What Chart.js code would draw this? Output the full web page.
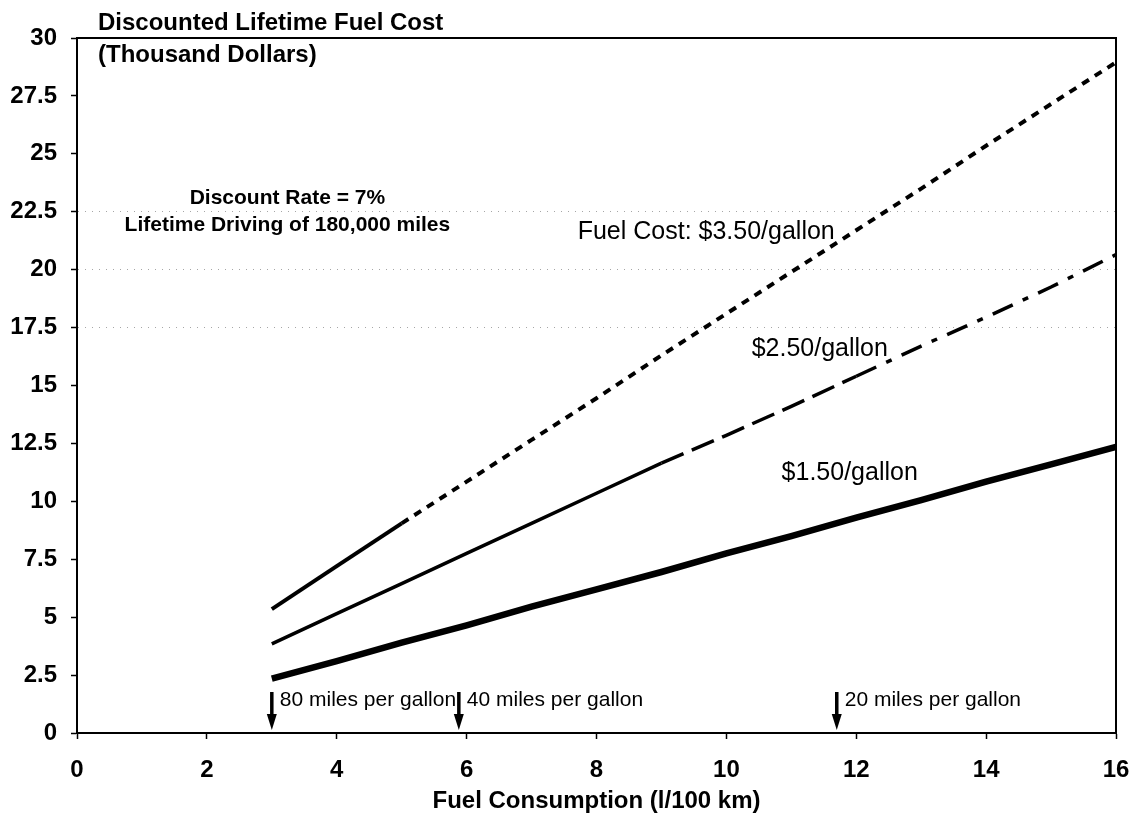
<!DOCTYPE html>
<html>
<head>
<meta charset="utf-8">
<script src="https://cdn.jsdelivr.net/npm/chart.js@4.4.0/dist/chart.umd.min.js"></script>
<style>
    html, body { margin: 0; padding: 0; background: #fff; }
    .chart-box { width: 1136px; height: 813px; position: relative; }
</style>
</head>
<body>
<div class="chart-box"><canvas id="fuelChart"></canvas></div>
<script>
// 燃料消耗 (l/100 km)
const consumption = [3, 4, 5, 6, 7, 8, 9, 10, 11, 12, 13, 14, 15, 16];
// 折现后的终身燃料成本 (千美元)
const cost350 = [5.35, 7.2, 9.05, 10.85, 12.65, 14.45, 16.3, 18.1, 19.9, 21.7, 23.5, 25.35, 27.15, 28.95];
const cost250 = [3.85, 5.15, 6.45, 7.75, 9.05, 10.35, 11.65, 12.85, 14.1, 15.4, 16.7, 17.95, 19.25, 20.65];
const cost150 = [2.35, 3.1, 3.9, 4.65, 5.45, 6.2, 6.95, 7.75, 8.5, 9.3, 10.05, 10.85, 11.6, 12.35];

const xTicks = [0, 2, 4, 6, 8, 10, 12, 14, 16];
const yTicks = [0, 2.5, 5, 7.5, 10, 12.5, 15, 17.5, 20, 22.5, 25, 27.5, 30];
const gridLevels = [17.5, 20, 22.5];

// miles per gallon markers
const mpgX = [3.0, 5.88, 11.7];
const mpgText = ['80 miles per gallon', '40 miles per gallon', '20 miles per gallon'];
const mpgArrowTop = 1.77;

// line labels (left x, centre y in data units)
const seriesText = ['Fuel Cost: $3.50/gallon', '$2.50/gallon', '$1.50/gallon'];
const seriesTextX = [7.71, 10.39, 10.85];
const seriesTextY = [21.6, 16.57, 11.22];

const noteText = ['Discount Rate = 7%', 'Lifetime Driving of 180,000 miles'];
const noteX = 3.24;
const noteY = [23.09, 21.92];

const FONT = '"Liberation Sans", Arial, sans-serif';

function toPoints(ys) {
    return consumption.map((x, i) => ({ x: x, y: ys[i] }));
}

// 标注、箭头和外框
const overlay = {
    id: 'overlay',
    afterDatasetsDraw(chart) {
        const ctx = chart.ctx;
        const a = chart.chartArea;
        const xs = chart.scales.x;
        const ys = chart.scales.y;
        ctx.save();

        // top + right frame
        ctx.strokeStyle = '#000';
        ctx.lineWidth = 2;
        ctx.beginPath();
        ctx.moveTo(a.left, a.top);
        ctx.lineTo(a.right, a.top);
        ctx.lineTo(a.right, a.bottom);
        ctx.stroke();

        ctx.fillStyle = '#000';
        ctx.textBaseline = 'middle';

        // axis title at top left
        ctx.textAlign = 'left';
        ctx.font = 'bold 24px ' + FONT;
        ctx.fillText('Discounted Lifetime Fuel Cost', a.left + 21, a.top - 15);
        ctx.fillText('(Thousand Dollars)', a.left + 21, a.top + 17);

        // notes
        ctx.textAlign = 'center';
        ctx.font = 'bold 21px ' + FONT;
        noteText.forEach((t, i) => {
            ctx.fillText(t, xs.getPixelForValue(noteX), ys.getPixelForValue(noteY[i]));
        });

        // series labels
        ctx.textAlign = 'left';
        ctx.font = '25px ' + FONT;
        seriesText.forEach((t, i) => {
            ctx.fillText(t, xs.getPixelForValue(seriesTextX[i]), ys.getPixelForValue(seriesTextY[i]));
        });

        // arrows
        ctx.font = '21px ' + FONT;
        mpgX.forEach((v, i) => {
            const px = xs.getPixelForValue(v);
            const top = ys.getPixelForValue(mpgArrowTop);
            const bottom = ys.getPixelForValue(0) - 3;
            ctx.lineWidth = 3.5;
            ctx.beginPath();
            ctx.moveTo(px, top);
            ctx.lineTo(px, bottom - 12);
            ctx.stroke();
            ctx.beginPath();
            ctx.moveTo(px - 5, bottom - 16);
            ctx.lineTo(px + 5, bottom - 16);
            ctx.lineTo(px, bottom);
            ctx.closePath();
            ctx.fill();
            ctx.fillText(mpgText[i], px + 8, ys.getPixelForValue(1.42));
        });

        ctx.restore();
    }
};

const ctx = document.getElementById('fuelChart').getContext('2d');
new Chart(ctx, {
    type: 'line',
    data: {
        datasets: [
            {
                label: '$3.50/gallon',
                data: toPoints(cost350),
                borderColor: '#000',
                borderWidth: 4,
                pointRadius: 0,
                tension: 0,
                segment: {
                    borderDash: c => c.p0.parsed.x >= 5 ? [8, 7] : undefined
                }
            },
            {
                label: '$2.50/gallon',
                data: toPoints(cost250),
                borderColor: '#000',
                borderWidth: 3.5,
                pointRadius: 0,
                tension: 0,
                segment: {
                    borderDash: c => {
                        if (c.p0.parsed.x >= 12) return [22, 11, 6, 11];
                        if (c.p0.parsed.x >= 9) return [24, 9];
                        return undefined;
                    }
                }
            },
            {
                label: '$1.50/gallon',
                data: toPoints(cost150),
                borderColor: '#000',
                borderWidth: 6.5,
                pointRadius: 0,
                tension: 0
            }
        ]
    },
    options: {
        responsive: true,
        maintainAspectRatio: false,
        animation: false,
        layout: {
            padding: { top: 38, right: 20, bottom: 0, left: 9 }
        },
        scales: {
            x: {
                type: 'linear',
                min: 0,
                max: 16,
                afterBuildTicks: axis => { axis.ticks = xTicks.map(v => ({ value: v })); },
                afterFit: axis => {
                    axis.height = 80;
                    axis.paddingLeft = 0;
                    axis.paddingRight = 0;
                },
                grid: { drawOnChartArea: false, tickLength: 6, tickColor: '#000', tickWidth: 1.5 },
                border: { display: true, color: '#000', width: 2 },
                ticks: {
                    color: '#000',
                    padding: 17,
                    font: { family: FONT, size: 24, weight: 'bold' },
                    callback: v => String(v)
                },
                title: {
                    display: true,
                    text: 'Fuel Consumption (l/100 km)',
                    color: '#000',
                    font: { family: FONT, size: 24, weight: 'bold', lineHeight: 1 },
                    padding: { top: 0, bottom: 0 }
                }
            },
            y: {
                min: 0,
                max: 30,
                afterBuildTicks: axis => { axis.ticks = yTicks.map(v => ({ value: v })); },
                afterFit: axis => { axis.width = 68; },
                grid: {
                    color: c => gridLevels.includes(c.tick.value) ? 'rgba(0,0,0,0.35)' : 'rgba(0,0,0,0)',
                    lineWidth: 1,
                    tickLength: 6,
                    tickColor: '#000',
                    tickWidth: 1.5
                },
                border: { display: true, color: '#000', width: 2, dash: [1, 6] },
                ticks: {
                    color: '#000',
                    padding: 14,
                    font: { family: FONT, size: 24, weight: 'bold' },
                    callback: v => String(v)
                }
            }
        },
        plugins: {
            legend: { display: false },
            tooltip: { enabled: false }
        }
    },
    plugins: [overlay]
});
</script>
</body>
</html>
